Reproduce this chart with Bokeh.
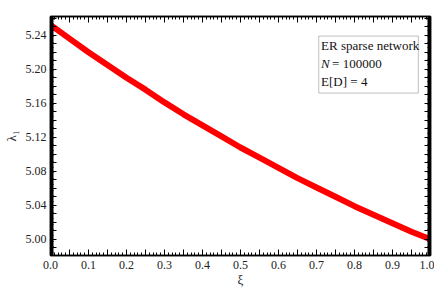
from bokeh.plotting import figure
from bokeh.models import (Range1d, LinearAxis, FixedTicker, CustomJSTickFormatter,
                          BoxAnnotation, Label)
from bokeh.embed import file_html
from bokeh.resources import INLINE

# data
xi = [0.00, 0.05, 0.10, 0.15, 0.20, 0.25, 0.30, 0.35, 0.40, 0.45, 0.50,
      0.55, 0.60, 0.65, 0.70, 0.75, 0.80, 0.85, 0.90, 0.95, 1.00]
lam = [5.252, 5.236, 5.220, 5.205, 5.190, 5.176, 5.161, 5.147, 5.134, 5.121, 5.108,
       5.096, 5.084, 5.072, 5.061, 5.050, 5.039, 5.029, 5.019, 5.009, 5.000]

x_major = [round(i * 0.05, 2) for i in range(21)]
x_minor = [round(i * 0.01, 2) for i in range(101)]
y_major = [round(4.98 + i * 0.01, 2) for i in range(29)]
y_minor = [round(4.98 + i * 0.001, 3) for i in range(283)]

info_lines = ["ER sparse network", "= 100000", "E[D] = 4"]

FONT = "Liberation Serif"

p = figure(output_backend="svg", toolbar_location=None,
           frame_width=380, frame_height=239,
           min_border_left=8, min_border_right=4, min_border_top=16, min_border_bottom=2,
           x_range=Range1d(0, 1), y_range=Range1d(4.981, 5.262),
           x_axis_location=None, y_axis_location=None)
p.grid.visible = False
p.outline_line_color = "black"
p.outline_line_width = 1.5
p.background_fill_color = "white"
p.border_fill_color = "white"

xfmt = CustomJSTickFormatter(code="""
const k = tick*10; return Math.abs(k-Math.round(k))<1e-6 ? tick.toFixed(1) : "";
""")
yfmt = CustomJSTickFormatter(code="""
const k = (tick-5)/0.04; return Math.abs(k-Math.round(k))<1e-6 ? tick.toFixed(2) : "";
""")

def style(ax):
    ax.axis_line_color = "black"
    ax.axis_line_width = 1.5
    ax.major_tick_in = 6
    ax.major_tick_out = 0
    ax.minor_tick_in = 3
    ax.minor_tick_out = 0
    ax.major_tick_line_color = "black"
    ax.minor_tick_line_color = "black"
    ax.major_tick_line_width = 1
    ax.minor_tick_line_width = 1
    ax.major_label_text_font = FONT
    ax.major_label_text_font_size = "12px"
    ax.major_label_text_color = "#222222"
    ax.axis_label_text_font = FONT
    ax.axis_label_text_font_style = "normal"
    ax.axis_label_text_font_size = "13px"
    ax.axis_label_text_color = "#222222"

xb = LinearAxis(ticker=FixedTicker(ticks=x_major, minor_ticks=x_minor), formatter=xfmt,
                axis_label="ξ")
style(xb)
xb.major_label_standoff = 5
xb.axis_label_standoff = 0
p.add_layout(xb, "below")

yl = LinearAxis(ticker=FixedTicker(ticks=y_major, minor_ticks=y_minor), formatter=yfmt,
                axis_label="λ₁")
style(yl)
yl.major_label_standoff = 4
yl.axis_label_standoff = 4
p.add_layout(yl, "left")

# mirrored tick marks on top and right (drawn as extra axes with blank labels)
xt = LinearAxis(ticker=FixedTicker(ticks=x_major, minor_ticks=x_minor),
                major_label_overrides={t: "" for t in x_major})
style(xt)
xt.major_label_standoff = 0
p.add_layout(xt, "above")

yr = LinearAxis(ticker=FixedTicker(ticks=y_major, minor_ticks=y_minor),
                major_label_overrides={t: "" for t in y_major})
style(yr)
yr.major_label_standoff = 0
p.add_layout(yr, "right")

p.line(xi, lam, line_color="#ff0000", line_width=6)

box = BoxAnnotation(left=0.706, right=0.968, top=5.239, bottom=5.172,
                    fill_color=None, line_color="#333333", line_width=1)
p.add_layout(box)

TX = 0.712
ys = [5.228, 5.207, 5.186]
p.add_layout(Label(x=TX, y=ys[0], text=info_lines[0], text_font=FONT,
                   text_font_size="13px", text_baseline="middle", text_color="#111111"))
p.add_layout(Label(x=TX, y=ys[1], text="N", text_font=FONT, text_font_style="italic",
                   text_font_size="13px", text_baseline="middle", text_color="#111111"))
p.add_layout(Label(x=TX, y=ys[1], x_offset=11, text=info_lines[1], text_font=FONT,
                   text_font_size="13px", text_baseline="middle", text_color="#111111"))
p.add_layout(Label(x=TX, y=ys[2], text=info_lines[2], text_font=FONT,
                   text_font_size="13px", text_baseline="middle", text_color="#111111"))

open("out.html", "w").write(file_html(p, INLINE))
